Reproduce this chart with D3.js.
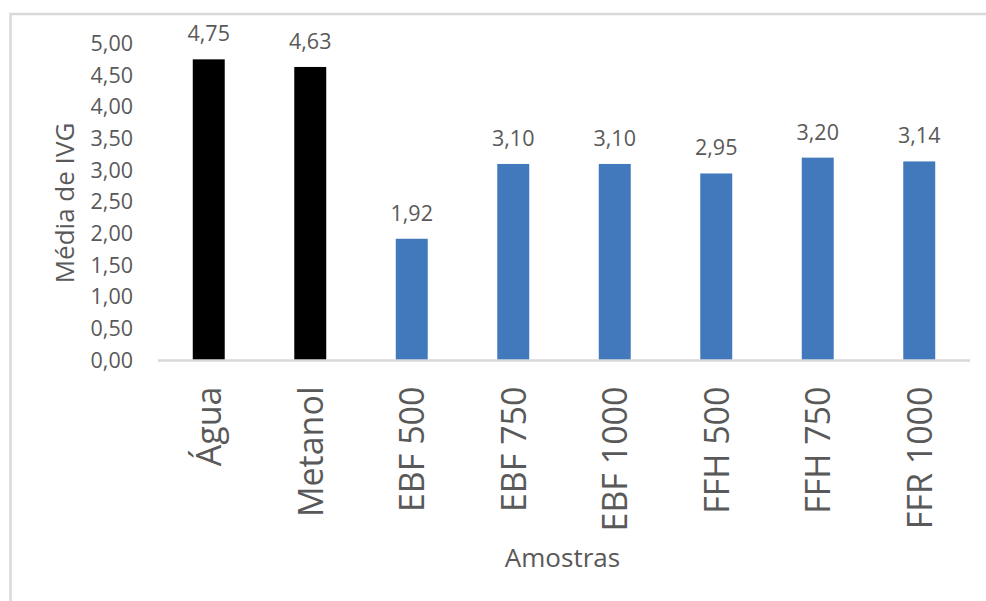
<!DOCTYPE html>
<html>
<head>
<meta charset="utf-8">
<script src="https://cdn.jsdelivr.net/npm/d3@7"></script>
<style>
  html, body { margin: 0; padding: 0; background: #fff; }
  svg { display: block; }
  text { font-family: "Open Sans", "Noto Sans", sans-serif; fill: #595959; }
</style>
</head>
<body>
<svg id="chart" width="986" height="601"></svg>
<script>
// Amostras e média de IVG
const categories = ["Água", "Metanol", "EBF 500", "EBF 750", "EBF 1000", "FFH 500", "FFH 750", "FFR 1000"];
const values = [4.75, 4.63, 1.92, 3.10, 3.10, 2.95, 3.20, 3.14];
const barColors = ["#000000", "#000000", "#4279bd", "#4279bd", "#4279bd", "#4279bd", "#4279bd", "#4279bd"];
const yTicks = [0, 0.5, 1, 1.5, 2, 2.5, 3, 3.5, 4, 4.5, 5];
const yTitle = "Média de IVG";
const xTitle = "Amostras";

const svg = d3.select("#chart");
const W = 986, H = 601;
const plot = { left: 158, right: 970, top: 43.5, bottom: 360.5 };

// chart frame
svg.append("rect")
  .attr("x", 10.5).attr("y", 14)
  .attr("width", W + 10).attr("height", H + 10)
  .attr("fill", "none").attr("stroke", "#d9d9d9").attr("stroke-width", 2.5);

const comma = v => d3.format(".2f")(v).replace(".", ",");

const x = d3.scaleBand().domain(categories).range([plot.left, plot.right]).paddingInner(0.685).paddingOuter(0.3425);
const y = d3.scaleLinear().domain([0, 5]).range([plot.bottom, plot.top]);

// y tick labels
const yAxis = d3.axisLeft(y).tickValues(yTicks).tickFormat(comma).tickSize(0).tickPadding(25);
const gy = svg.append("g").attr("transform", `translate(${plot.left},0)`).call(yAxis);
gy.select(".domain").remove();
gy.selectAll("text").attr("font-size", 21.5).style("font-family", "'Open Sans', sans-serif").attr("fill", "#595959");

// bars
svg.append("g").selectAll("rect")
  .data(values)
  .join("rect")
  .attr("x", (d, i) => x(categories[i]))
  .attr("width", x.bandwidth())
  .attr("y", d => y(d))
  .attr("height", d => y(0) - y(d))
  .attr("fill", (d, i) => barColors[i]);

// value labels
svg.append("g").selectAll("text")
  .data(values)
  .join("text")
  .attr("x", (d, i) => x(categories[i]) + x.bandwidth() / 2)
  .attr("y", d => y(d) - 18)
  .attr("text-anchor", "middle")
  .attr("font-size", 21.5)
  .text(d => comma(d));

// category axis
const xAxis = d3.axisBottom(x).tickSize(0).tickPadding(0);
const gx = svg.append("g").attr("transform", `translate(0,${plot.bottom})`).call(xAxis);
gx.select(".domain").attr("stroke", "#d9d9d9").attr("stroke-width", 2.5)
  .attr("d", `M${plot.left},0H${plot.right}`);
gx.selectAll("text")
  .attr("font-size", 34)
  .style("font-family", "'Open Sans', sans-serif")
  .attr("fill", "#595959")
  .attr("text-anchor", "end")
  .attr("transform", "translate(0,26) rotate(-90)")
  .attr("x", 0).attr("y", 0)
  .attr("dy", "0.36em");

// axis titles
svg.append("text")
  .attr("transform", `translate(74,${(plot.top + plot.bottom) / 2 + 1}) rotate(-90)`)
  .attr("text-anchor", "middle")
  .attr("font-size", 26)
  .text(yTitle);

svg.append("text")
  .attr("x", 562.5).attr("y", 567)
  .attr("text-anchor", "middle")
  .attr("font-size", 26)
  .text(xTitle);
</script>
</body>
</html>
